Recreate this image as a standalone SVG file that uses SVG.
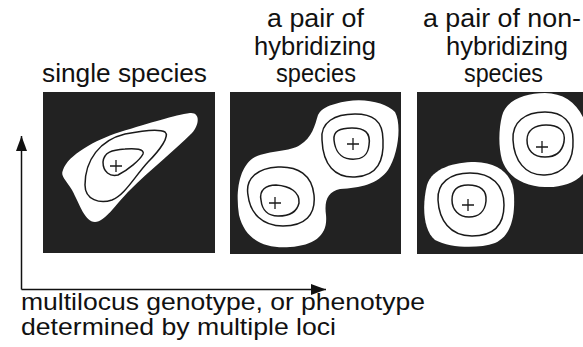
<svg xmlns="http://www.w3.org/2000/svg" width="583" height="347" viewBox="0 0 583 347">
<style>
text{font-family:"Liberation Sans",Arial,sans-serif;font-size:25.5px;fill:#111}
text.ax{font-size:24px}
.panel{fill:#222}
.blob{fill:#fff;stroke:none}
.ct{fill:none;stroke:#1a1a1a;stroke-width:1.5}
.plus{stroke:#1a1a1a;stroke-width:1.3;fill:none}
.axis{stroke:#111;stroke-width:1.5;fill:none}
</style>
<defs>
<marker id="arr" markerUnits="userSpaceOnUse" markerWidth="15" markerHeight="11" refX="15" refY="5.5" orient="auto">
<path d="M0,0 L15,5.5 L0,11 Z" fill="#111"/>
</marker>
<clipPath id="c3"><rect x="417" y="92" width="166" height="162"/></clipPath>
</defs>
<rect width="583" height="347" fill="#fff"/>

<g id="labels">
<text x="42" y="82" textLength="165" lengthAdjust="spacingAndGlyphs">single species</text>
<text x="267" y="27" textLength="97" lengthAdjust="spacingAndGlyphs">a pair of</text>
<text x="254" y="55" textLength="122" lengthAdjust="spacingAndGlyphs">hybridizing</text>
<text x="276" y="82" textLength="80" lengthAdjust="spacingAndGlyphs">species</text>
<text x="423" y="27" textLength="158" lengthAdjust="spacingAndGlyphs">a pair of non-</text>
<text x="446" y="55" textLength="122" lengthAdjust="spacingAndGlyphs">hybridizing</text>
<text x="464" y="82" textLength="79" lengthAdjust="spacingAndGlyphs">species</text>
<text class="ax" x="21" y="309.5" textLength="404" lengthAdjust="spacingAndGlyphs">multilocus genotype, or phenotype</text>
<text class="ax" x="21" y="335" textLength="315" lengthAdjust="spacingAndGlyphs">determined by multiple loci</text>
</g>

<g id="panel-single">
<rect class="panel" x="43" y="92" width="172" height="161"/>
<path class="blob" d="M63,170 C68,155 95,140 120,132 C150,123 175,115 190,113 C200,112 200,124 192,133 C175,150 150,170 130,190 C115,205 105,222 95,222 C85,222 80,205 72,190 C66,180 60,176 63,170 Z"/>
<path class="ct" d="M85,185 C85,160 100,140 125,134 C145,130 160,129 165,132 C170,136 160,150 148,162 C135,176 125,195 112,200 C100,204 85,200 85,185 Z"/>
<path class="ct" d="M103,162 C104,152 112,150 125,149 C135,148 145,149 143,154 C140,160 128,170 118,175 C110,177 103,172 103,162 Z"/>
<path class="plus" d="M110,166 H122 M116,160 V172"/>
</g>

<g id="panel-hybridizing">
<rect class="panel" x="230" y="92" width="171" height="162"/>
<path class="blob" d="M335,104 C360,96 385,102 395,112 C402,125 398,155 388,170 C378,184 360,188 340,189 C328,192 324,200 326,215 C328,235 315,245 290,247 C265,249 245,240 239,215 C235,190 240,165 255,157 C270,150 290,152 300,145 C312,138 315,125 318,115 C322,108 328,106 335,104 Z"/>
<path class="ct" d="M322,140 C320,122 335,114 355,114 C372,114 383,120 383,140 C384,160 378,176 355,177 C335,178 323,165 322,140 Z"/>
<path class="ct" d="M334,140 C333,131 340,128 352,128 C364,128 371,132 369,145 C368,156 362,160 350,159 C340,158 335,150 334,140 Z"/>
<path class="plus" d="M347,144 H359 M353,138 V150"/>
<path class="ct" d="M248,195 C245,178 258,168 278,167 C298,166 312,175 314,195 C316,215 305,226 283,226 C262,226 250,213 248,195 Z"/>
<path class="ct" d="M261,200 C259,190 266,185 276,185 C290,186 300,192 299,203 C297,212 290,216 278,216 C268,216 262,210 261,200 Z"/>
<path class="plus" d="M269,203 H281 M275,197 V209"/>
</g>

<g id="panel-nonhybridizing">
<rect class="panel" x="417" y="92" width="166" height="162"/>
<g clip-path="url(#c3)">
<path class="blob" d="M502,116 C506,100 525,93 545,93 C565,93 580,105 586,125 L586,170 C578,183 560,188 545,187 C525,186 508,178 502,160 C498,145 499,128 502,116 Z"/>
</g>
<path class="ct" d="M513,140 C512,122 525,112 545,112 C563,112 573,122 573,140 C574,160 565,174 545,175 C525,176 514,160 513,140 Z"/>
<path class="ct" d="M527,140 C527,130 535,125 546,125 C558,125 566,130 564,142 C562,152 555,157 545,157 C533,157 527,150 527,140 Z"/>
<path class="plus" d="M536,147 H548 M542,141 V153"/>
<path class="blob" d="M427,185 C432,168 455,162 475,162 C500,163 513,175 514,195 C515,215 512,235 495,243 C478,249 450,248 435,240 C423,230 422,205 427,185 Z"/>
<path class="ct" d="M438,200 C437,183 450,173 470,173 C492,173 504,185 504,205 C504,225 494,236 472,236 C450,236 439,220 438,200 Z"/>
<path class="ct" d="M452,200 C452,190 458,185 468,185 C480,185 487,190 486,201 C485,212 478,217 469,217 C459,217 452,210 452,200 Z"/>
<path class="plus" d="M462,205 H474 M468,199 V211"/>
</g>

<g id="connectors">
<path class="axis" d="M21.5,289.5 V136" marker-end="url(#arr)"/>
<path class="axis" d="M21.5,289.5 H326" marker-end="url(#arr)"/>
</g>
</svg>
